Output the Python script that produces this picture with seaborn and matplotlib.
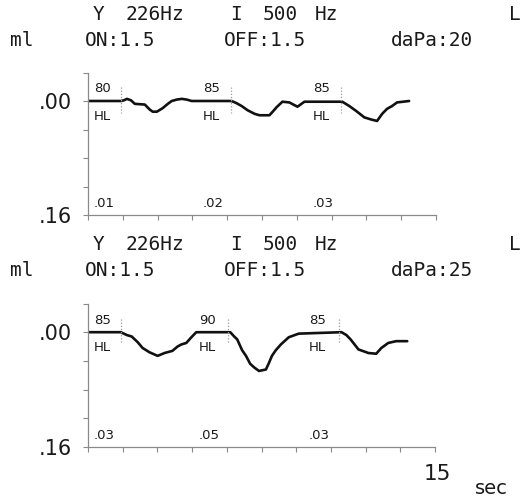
import numpy as np
import pandas as pd
import matplotlib
matplotlib.use("Agg")
import matplotlib.pyplot as plt
import seaborn as sns

# ---------------- data ----------------
# top trace (daPa:20): time in seconds, compliance change in ml
top_t = [0.00, 1.42, 1.55, 1.68, 1.85, 2.02, 2.45, 2.66, 2.79, 2.97, 3.22, 3.44,
         3.61, 3.83, 4.04, 4.25, 4.47, 6.19, 6.40, 6.62, 6.88, 7.18, 7.39, 7.82,
         7.99, 8.12, 8.38, 8.68, 8.85, 9.03, 9.20, 9.33, 10.96, 11.26, 11.56,
         11.91, 12.21, 12.46, 12.68, 12.89, 13.11, 13.32, 13.58, 13.84]
top_v = [0.000, 0.000, -0.001, -0.003, -0.001, 0.004, 0.005, 0.012, 0.015, 0.015,
         0.010, 0.004, 0.000, -0.002, -0.003, -0.002, 0.000, 0.000, 0.003, 0.007,
         0.013, 0.018, 0.020, 0.020, 0.014, 0.009, 0.001, 0.002, 0.005, 0.008,
         0.004, 0.001, 0.001, 0.007, 0.014, 0.023, 0.026, 0.028, 0.018, 0.011,
         0.007, 0.002, 0.001, 0.000]

# bottom trace (daPa:25)
bot_t = [0.00, 1.42, 1.68, 1.89, 2.15, 2.36, 2.66, 3.01, 3.31, 3.65, 3.87, 4.04,
         4.25, 4.47, 4.68, 6.15, 6.32, 6.45, 6.66, 6.83, 7.01, 7.18, 7.39, 7.69,
         7.82, 7.95, 8.12, 8.34, 8.68, 9.11, 10.96, 11.17, 11.35, 11.69, 11.95,
         12.12, 12.46, 12.68, 12.98, 13.32, 13.80]
bot_v = [0.000, 0.000, 0.004, 0.006, 0.014, 0.022, 0.028, 0.033, 0.029, 0.026,
         0.020, 0.017, 0.015, 0.007, 0.000, 0.000, 0.006, 0.010, 0.025, 0.033,
         0.044, 0.049, 0.054, 0.052, 0.043, 0.033, 0.025, 0.017, 0.007, 0.002,
         0.000, 0.004, 0.010, 0.024, 0.027, 0.029, 0.030, 0.022, 0.015, 0.0125,
         0.0125]

# stimulus markers
top_marks = [1.42, 6.15, 10.92]
bot_marks = [1.42, 6.06, 10.85]
label_t_top = [0.25, 4.95, 9.70]
label_t_bot = [0.25, 4.80, 9.55]
top_levels = ["80", "85", "85"]
bot_levels = ["85", "90", "85"]
top_reflex = [".01", ".02", ".03"]
bot_reflex = [".03", ".05", ".03"]

headers = [
    {"probe": "226Hz", "stim": "500", "on": "ON:1.5", "off": "OFF:1.5", "dapa": "daPa:20"},
    {"probe": "226Hz", "stim": "500", "on": "ON:1.5", "off": "OFF:1.5", "dapa": "daPa:25"},
]

x_ticks = [0, 1.5, 3, 4.5, 6, 7.5, 9, 10.5, 12, 13.5, 15]
y_ticks = [-0.04, 0.0, 0.04, 0.08, 0.12, 0.16]
y_ticklabels = ["", ".00", "", "", "", ".16"]

# ---------------- figure ----------------
sns.set_style("ticks")
plt.rcParams["font.family"] = ["DejaVu Sans"]

W, H = 527, 499
fig = plt.figure(figsize=(W / 100, H / 100), dpi=100)

def fx(px):
    return px / W

def fy(py):
    return 1 - py / H

ax_specs = [
    (88, 436, 72.5, 215),   # left, right, top, bottom in pixels
    (88, 435, 303.5, 447),
]
traces = [(top_t, top_v, top_marks, label_t_top, top_levels, top_reflex),
          (bot_t, bot_v, bot_marks, label_t_bot, bot_levels, bot_reflex)]

ink = "#1a1a1a"
axis_col = "#8a8a8a"
mono = "DejaVu Sans Mono"

for i, ((l, r, t, b), (tt, vv, marks, lt, lev, refl)) in enumerate(zip(ax_specs, traces)):
    ax = fig.add_axes([fx(l), fy(b), fx(r - l), (b - t) / H])
    df = pd.DataFrame({"t": tt, "v": vv})
    sns.lineplot(data=df, x="t", y="v", ax=ax, color="#111111", lw=1.9,
                 sort=False, estimator=None)
    ax.set_xlim(0, 15)
    ax.set_ylim(0.16, -0.04)
    ax.set_xlabel("")
    ax.set_ylabel("")
    for s in ["top", "right"]:
        ax.spines[s].set_visible(False)
    for s in ["left", "bottom"]:
        ax.spines[s].set_color(axis_col)
        ax.spines[s].set_linewidth(0.9)
    ax.set_xticks(x_ticks)
    ax.set_xticklabels([])
    ax.set_yticks(y_ticks)
    ax.set_yticklabels(y_ticklabels, fontsize=15, color=ink)
    ax.tick_params(axis="x", direction="out", length=3.5, width=0.8, color=axis_col,
                   bottom=True)
    ax.tick_params(axis="y", direction="out", length=3.5, width=0.8, color=axis_col,
                   pad=8, left=True)
    ax.patch.set_alpha(0)
    for m in marks:
        ax.plot([m, m], [-0.019, 0.017], ls=(0, (1, 1.5)), color="#9a9a9a", lw=0.9)
    for x0, lv, rf in zip(lt, lev, refl):
        ax.text(x0, -0.017, lv, fontsize=9.5, color=ink, ha="left", va="center")
        ax.text(x0, 0.022, "HL", fontsize=9.5, color=ink, ha="left", va="center")
        ax.text(x0, 0.144, rf, fontsize=9.5, color=ink, ha="left", va="center")

# headers
for hd, y0 in zip(headers, [15, 245]):
    y1 = y0 + 25
    fig.text(fx(99), fy(y0), "Y", family=mono, fontsize=14, color=ink, ha="center", va="center")
    fig.text(fx(155), fy(y0), hd["probe"], family=mono, fontsize=14, color=ink, ha="center", va="center")
    fig.text(fx(236), fy(y0), "I", family=mono, fontsize=14, color=ink, ha="center", va="center")
    fig.text(fx(280), fy(y0), hd["stim"], family=mono, fontsize=14, color=ink, ha="center", va="center")
    fig.text(fx(326), fy(y0), "Hz", family=mono, fontsize=14, color=ink, ha="center", va="center")
    fig.text(fx(515), fy(y0), "L", family=mono, fontsize=14, color=ink, ha="center", va="center")
    fig.text(fx(22), fy(y1), "ml", family=mono, fontsize=14, color=ink, ha="center", va="center")
    fig.text(fx(120), fy(y1), hd["on"], family=mono, fontsize=14, color=ink, ha="center", va="center")
    fig.text(fx(265), fy(y1), hd["off"], family=mono, fontsize=14, color=ink, ha="center", va="center")
    fig.text(fx(432), fy(y1), hd["dapa"], family=mono, fontsize=14, color=ink, ha="center", va="center")

fig.text(fx(437), fy(474), "15", fontsize=15.5, color=ink, ha="center", va="center")
fig.text(fx(491), fy(488), "sec", fontsize=14, color=ink, ha="center", va="center")

fig.savefig("out.png", dpi=100, facecolor="white")
